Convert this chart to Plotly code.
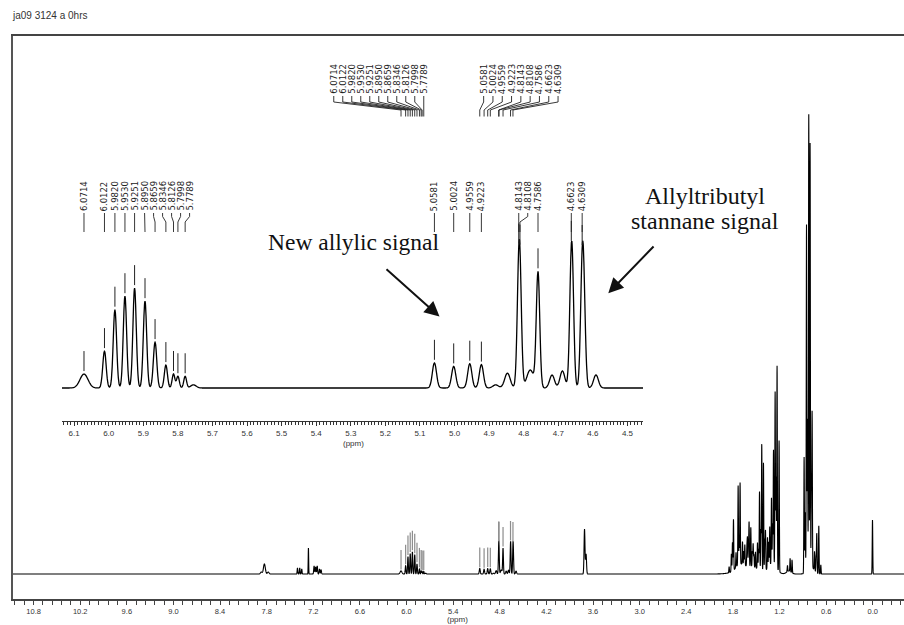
import numpy as np
import plotly.graph_objects as go

W, H = 904, 625

# ---------------- peak table (ppm, intensity, gaussian sigma in ppm) ----------------
# labelled olefinic CH multiplet
vinyl_ppm = [6.0714, 6.0122, 5.9820, 5.9530, 5.9251, 5.8950, 5.8659, 5.8346, 5.8126, 5.7998, 5.7789]
vinyl_int = [3.1, 8.2, 17.4, 20.4, 22.2, 19.3, 10.2, 5.1, 3.1, 2.6, 2.6]
vinyl_wid = [0.0116, 0.0049, 0.0049, 0.0049, 0.0049, 0.0049, 0.0049, 0.0045, 0.0040, 0.0040, 0.0040]

# labelled terminal =CH2 signals
methylene_ppm = [5.0581, 5.0024, 4.9559, 4.9223, 4.8143, 4.8108, 4.7586, 4.6623, 4.6309]
methylene_int = [5.6, 4.8, 5.4, 5.2, 18.2, 16.9, 25.6, 22.2, 22.2]
methylene_wid = [0.006, 0.006, 0.006, 0.006, 0.005, 0.005, 0.005, 0.005, 0.005]

# unlabelled lines in the expanded region
minor_ppm = [5.755, 4.881, 4.847, 4.781, 4.718, 4.688, 4.6590, 4.6260, 4.591]
minor_int = [0.7, 0.7, 3.3, 4.0, 2.9, 3.8, 12.2, 14.4, 2.9]
minor_wid = [0.008, 0.008, 0.008, 0.010, 0.007, 0.007, 0.005, 0.005, 0.007]

# aromatic / CHCl3 / OMe region
arom_ppm = [7.87, 7.83, 7.78, 7.404, 7.375, 7.349, 7.263, 7.19, 7.17, 7.15, 7.12, 7.10, 3.710, 3.690]
arom_int = [2, 10, 2, 6, 6, 5, 26, 8, 7, 8, 5, 4, 45, 20]
arom_wid = [0.010, 0.012, 0.010, 0.004, 0.004, 0.004, 0.003, 0.005, 0.005, 0.005, 0.005, 0.005, 0.006, 0.006]

# butyl / aliphatic envelope and TMS
alkyl_ppm = [1.849, 1.820, 1.806, 1.793, 1.760, 1.733, 1.720, 1.708, 1.677, 1.660, 1.647, 1.620,
             1.613, 1.600, 1.592, 1.570, 1.550, 1.540, 1.530, 1.510, 1.484, 1.470, 1.458, 1.440,
             1.429, 1.407, 1.390, 1.381, 1.355, 1.340, 1.326, 1.304, 1.290, 1.278, 1.257, 1.245,
             1.232, 1.206, 1.098, 1.064, 1.039, 0.884, 0.870, 0.853, 0.840, 0.824, 0.807, 0.790,
             0.781, 0.750, 0.730, 0.721, 0.695, 0.669, 0.004]
alkyl_int = [6, 18, 29, 51, 15, 79, 20, 81, 23, 14, 21, 18,
             26, 20, 43, 39, 15, 23, 12, 16, 26, 20, 78, 40,
             126, 108, 30, 39, 31, 25, 39, 66, 40, 114, 174, 90,
             203, 131, 6, 13, 13, 116, 60, 346, 150, 453, 423, 80,
             153, 19, 15, 39, 48, 9, 54]
alkyl_wid = [0.0035] * len(alkyl_ppm)

# broad underlying envelopes
hump_ppm = [1.60, 1.72, 1.29, 1.08, 0.80]
hump_int = [8, 5, 10, 3, 8]
hump_wid = [0.13, 0.04, 0.05, 0.03, 0.04]

centres = np.array(vinyl_ppm + methylene_ppm + minor_ppm + arom_ppm + alkyl_ppm + hump_ppm)
amps = np.array(vinyl_int + methylene_int + minor_int + arom_int + alkyl_int + hump_int, dtype=float)
sigmas = np.array(vinyl_wid + methylene_wid + minor_wid + arom_wid + alkyl_wid + hump_wid)


def spectrum(ppm):
    ppm = np.atleast_1d(np.asarray(ppm, dtype=float))
    return (amps[:, None] * np.exp(-0.5 * ((ppm[None, :] - centres[:, None]) / sigmas[:, None]) ** 2)).sum(0)


offs = np.array([-4, -3, -2.5, -2, -1.5, -1, -0.6, -0.3, 0, 0.3, 0.6, 1, 1.5, 2, 2.5, 3, 4])
xs = np.unique(np.concatenate([np.arange(-0.45, 11.12, 0.002),
                               (centres[:, None] + sigmas[:, None] * offs[None, :]).ravel()]))[::-1]
ys = spectrum(xs)

# ---------------- axis geometry ----------------
MAIN_X = [11.065, -0.4015]
MAIN_Y = [-25, 538]            # 1 unit = 1 px
INSET_X = [6.135, 4.455]
INSET_K = 4.5                   # px per unit in the expansion
INSET_Y = [-33 / INSET_K, 238 / INSET_K]
main_pxppm = (W - 13) / (MAIN_X[0] - MAIN_X[1])
inset_pxppm = (643 - 62) / (INSET_X[0] - INSET_X[1])


def uin(px):   # screen y (px) -> inset units
    return (388 - px) / INSET_K


def umain(px):  # screen y (px) -> main units
    return 574 - px


def spread(ppms, gap, symmetric=True):
    p = [-v for v in ppms]
    if not symmetric:
        for i in range(1, len(p)):
            p[i] = max(p[i], p[i - 1] + gap)
        return [-v for v in p]
    for _ in range(500):
        moved = False
        for i in range(len(p) - 1):
            d = p[i + 1] - p[i]
            if d < gap - 1e-9:
                s = (gap - d) / 2
                p[i] -= s
                p[i + 1] += s
                moved = True
        if not moved:
            break
    return [-v for v in p]


fig = go.Figure()
fig.add_trace(go.Scatter(x=xs, y=ys, mode="lines", line=dict(color="black", width=1.1, simplify=False),
                         hoverinfo="skip", xaxis="x", yaxis="y"))
fig.add_trace(go.Scatter(x=xs, y=ys, mode="lines", line=dict(color="black", width=1.3, simplify=False),
                         hoverinfo="skip", xaxis="x2", yaxis="y2"))

annotations = []
lab_font = dict(family="DejaVu Sans", size=8.5, color="#222")

# ---- expansion: peak ticks, connectors and labels ----
mk_x, mk_y, cn_x, cn_y = [], [], [], []
for group, sym in ((vinyl_ppm, True), (methylene_ppm, False)):
    lab = spread(group, 9.0 / inset_pxppm, sym)
    tops = spectrum(group)
    for p, lp, t in zip(group, lab, tops):
        mk_x += [p, p, None]
        mk_y += [t + 3 / INSET_K, t + 23 / INSET_K, None]
        cn_x += [lp, lp, p, p, None]
        cn_y += [uin(213), uin(216.5), uin(222), uin(232), None]
        annotations.append(dict(x=lp, y=uin(212), xref="x2", yref="y2", text=f"{p:.4f}",
                                textangle=-90, showarrow=False, xanchor="center", yanchor="bottom",
                                font=lab_font, borderpad=0))
fig.add_trace(go.Scatter(x=mk_x, y=mk_y, mode="lines", line=dict(color="#222", width=1),
                         hoverinfo="skip", xaxis="x2", yaxis="y2"))
fig.add_trace(go.Scatter(x=cn_x, y=cn_y, mode="lines", line=dict(color="#222", width=0.9),
                         hoverinfo="skip", xaxis="x2", yaxis="y2"))

# ---- full spectrum: grey peak ticks and top label groups ----
gm_x, gm_y, tc_x, tc_y = [], [], [], []
step = 9.0 / main_pxppm
groups = [
    (vinyl_ppm, [vinyl_ppm[-1] + (len(vinyl_ppm) - 1 - i) * step for i in range(len(vinyl_ppm))]),
    (methylene_ppm, [methylene_ppm[0] - 0.05 - i * 9.3 / main_pxppm for i in range(len(methylene_ppm))]),
]
for group, lab in groups:
    tops = spectrum(group)
    for p, lp, t in zip(group, lab, tops):
        gm_x += [p, p, None]
        gm_y += [t + 1.5, t + 21, None]
        tc_x += [lp, lp, p, p, None]
        tc_y += [umain(96), umain(102), umain(110), umain(116.5), None]
        annotations.append(dict(x=lp, y=umain(95), xref="x", yref="y", text=f"{p:.4f}",
                                textangle=-90, showarrow=False, xanchor="center", yanchor="bottom",
                                font=lab_font, borderpad=0))
fig.add_trace(go.Scatter(x=gm_x, y=gm_y, mode="lines", line=dict(color="#8c8c8c", width=1.2),
                         hoverinfo="skip", xaxis="x", yaxis="y"))
fig.add_trace(go.Scatter(x=tc_x, y=tc_y, mode="lines", line=dict(color="#222", width=0.9),
                         hoverinfo="skip", xaxis="x", yaxis="y"))

# ---- text and arrows ----
serif = "Liberation Serif, Times New Roman, serif"


def px(xp, yp):
    return xp / W, 1 - yp / H


for txt, cx, cy, fs in [("New allylic signal", 353, 242, 23.5),
                        ("Allyltributyl", 705, 196, 24),
                        ("stannane signal", 705, 221, 24)]:
    xx, yy = px(cx, cy)
    annotations.append(dict(x=xx, y=yy, xref="paper", yref="paper", text=txt, showarrow=False,
                            xanchor="center", yanchor="middle", font=dict(family=serif, size=fs, color="#111")))

for tip, tail in [((439.5, 316.5), (385, 268)), ((608.3, 293.3), (655, 245))]:
    xx, yy = px(*tip)
    annotations.append(dict(x=xx, y=yy, xref="paper", yref="paper", text="", showarrow=True,
                            ax=tail[0] - tip[0], ay=tail[1] - tip[1], arrowhead=2, arrowsize=1.5,
                            arrowwidth=2, arrowcolor="#111", standoff=0))

xx, yy = px(10, 16)
annotations.append(dict(x=xx, y=yy, xref="paper", yref="paper", text="ja09 3124 a 0hrs", showarrow=False,
                        xanchor="left", yanchor="middle", font=dict(family="Liberation Sans", size=10, color="#333")))
xx, yy = px(353.5, 443)
annotations.append(dict(x=xx, y=yy, xref="paper", yref="paper", text="(ppm)", showarrow=False,
                        xanchor="center", yanchor="middle", font=dict(family="Liberation Sans", size=8, color="#333")))
xx, yy = px(458, 619)
annotations.append(dict(x=xx, y=yy, xref="paper", yref="paper", text="(ppm)", showarrow=False,
                        xanchor="center", yanchor="middle", font=dict(family="Liberation Sans", size=8, color="#333")))

tickfont = dict(family="Liberation Sans", size=7.5, color="#333")
fig.update_layout(
    width=W, height=H, margin=dict(l=0, r=0, t=0, b=0),
    paper_bgcolor="white", plot_bgcolor="white", showlegend=False,
    xaxis=dict(domain=[13 / W, 1], range=MAIN_X, anchor="y", showline=True, mirror=True,
               linecolor="#444", linewidth=1.5, ticks="outside", ticklen=4, tickwidth=1, tickcolor="#444",
               tickmode="linear", tick0=0, dtick=0.6, tickformat=".1f", showgrid=False, zeroline=False,
               tickfont=tickfont,
               minor=dict(dtick=0.12, tick0=0, ticks="outside", ticklen=4, tickwidth=1, tickcolor="#444",
                          showgrid=False)),
    yaxis=dict(domain=[26 / H, 589 / H], range=MAIN_Y, anchor="x", showline=True, linecolor="#555",
               linewidth=2, showticklabels=False, ticks="", showgrid=False, zeroline=False),
    xaxis2=dict(domain=[62 / W, 643 / W], range=INSET_X, anchor="y2", showline=True, linecolor="#333",
                linewidth=1, ticks="outside", ticklen=4, tickwidth=1, tickcolor="#333",
                tickmode="linear", tick0=0, dtick=0.1, tickformat=".1f", showgrid=False, zeroline=False,
                tickfont=dict(family="Liberation Sans", size=8, color="#333"),
                minor=dict(dtick=0.01, tick0=0, ticks="outside", ticklen=3, tickwidth=1, tickcolor="#333",
                           showgrid=False)),
    yaxis2=dict(domain=[(H - 421) / H, (H - 150) / H], range=INSET_Y, anchor="x2", visible=False),
    annotations=annotations,
)

fig.write_html("out.html")
